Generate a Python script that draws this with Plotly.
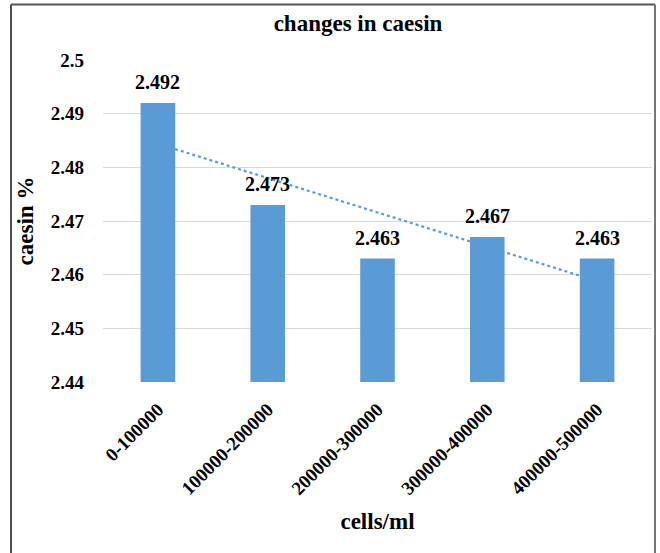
import plotly.graph_objects as go
import numpy as np

categories = ["0-100000", "100000-200000", "200000-300000", "300000-400000", "400000-500000"]
values = [2.492, 2.473, 2.463, 2.467, 2.463]
y_ticks = [2.44, 2.45, 2.46, 2.47, 2.48, 2.49, 2.5]
y_tick_labels = ["2.44", "2.45", "2.46", "2.47", "2.48", "2.49", "2.5"]

# linear trendline (least squares over category index)
xi = np.arange(1, len(values) + 1)
slope, intercept = np.polyfit(xi, values, 1)
trend = slope * xi + intercept

FONT = "Liberation Serif, Times New Roman, DejaVu Serif, serif"
BLUE = "#5B9BD5"

W, H = 660, 553
L, R, T, B = 103, 8, 60, 171
PW, PH = W - L - R, H - T - B


def px_x(X):
    return (X - L) / PW


def px_y(Y):
    return (H - B - Y) / PH


fig = go.Figure()
fig.add_trace(go.Scatter(
    x=categories, y=trend, mode="lines",
    line=dict(color=BLUE, width=2.2, dash="dot"),
    hoverinfo="skip", showlegend=False, zorder=0,
))
fig.add_trace(go.Bar(
    x=categories, y=values, marker=dict(color=BLUE, line=dict(width=0)),
    showlegend=False, zorder=1, hoverinfo="x+y",
))

for c, v in zip(categories, values):
    fig.add_annotation(
        x=c, y=v, text=f"<b>{v:.3f}</b>", showarrow=False,
        yanchor="bottom", yshift=8,
        font=dict(family=FONT, size=20, color="black"),
    )

fig.update_layout(
    width=W, height=H,
    margin=dict(l=L, r=R, t=T, b=B),
    paper_bgcolor="white", plot_bgcolor="white",
    bargap=0.685,
    font=dict(family=FONT, color="black"),
    title=dict(text="<b>changes in caesin</b>", x=358 / W, xanchor="center",
               y=1 - 23 / H, yanchor="middle",
               font=dict(family=FONT, size=23, color="black")),
    shapes=[
        dict(type="line", xref="paper", yref="paper", x0=px_x(11), x1=px_x(11),
             y0=px_y(560), y1=px_y(4.5), line=dict(color="#111", width=1.5)),
        dict(type="line", xref="paper", yref="paper", x0=px_x(11), x1=px_x(655),
             y0=px_y(4.5), y1=px_y(4.5), line=dict(color="#555", width=2)),
        dict(type="line", xref="paper", yref="paper", x0=px_x(655), x1=px_x(655),
             y0=px_y(560), y1=px_y(4.5), line=dict(color="#777", width=2)),
    ],
)
fig.update_yaxes(
    range=[2.44, 2.5], tickvals=y_ticks, ticktext=[f"<b>{t}</b>" for t in y_tick_labels],
    tickfont=dict(family=FONT, size=19, color="black"),
    showgrid=True, gridcolor="#D9D9D9", gridwidth=1,
    zeroline=False, showline=False, ticks="", ticklabelstandoff=18,
    title=dict(text="<b>caesin %</b>", font=dict(family=FONT, size=23, color="black"), standoff=10),
)
fig.update_xaxes(
    tickangle=-45, tickfont=dict(family=FONT, size=19, color="black"),
    ticktext=[f"<b>{c}</b>" for c in categories], tickvals=categories,
    showline=True, linecolor="#D9D9D9", linewidth=1, ticks="", ticklabelstandoff=8,
    title=dict(text="<b>cells/ml</b>", font=dict(family=FONT, size=23, color="black"), standoff=14),
)

fig.write_html("out.html", config={"displayModeBar": False},
               post_script="document.body.style.margin='0px';")
